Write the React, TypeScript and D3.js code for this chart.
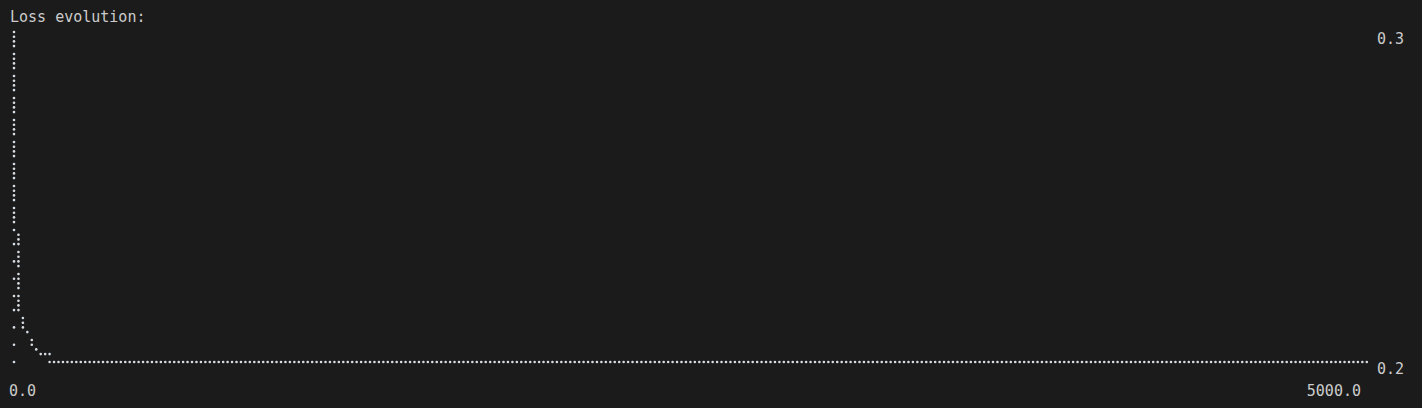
import { useEffect, useRef } from "react";
import * as d3 from "d3";

const epochs = [0, 8, 16, 24, 36, 40, 50, 66, 72, 82, 98, 131, 138, 5000];
const losses = [
  0.31, 0.24, 0.238, 0.215, 0.213, 0.21, 0.208, 0.207, 0.205, 0.203, 0.2017,
  0.2017, 0.2, 0.2,
];
// loose points at epoch 0
const startLosses = [0.235, 0.23, 0.225, 0.22, 0.215, 0.21, 0.205, 0.2];

const yTicks = [0.3, 0.2];
const xTicks = [0, 5000];

function App() {
  const svgRef = useRef(null);

  useEffect(() => {
    const width = 1422;
    const height = 408;
    const lineH = 22;
    const left = 10;
    const top = 32;
    const dotCols = 305;
    const dotRows = 61;
    const font = "'DejaVu Sans Mono', monospace";
    const textColor = "#cccccc";
    const dotColor = "#d6dde4";

    document.body.style.margin = "0";
    document.body.style.background = "#1b1b1b";

    // data -> braille dot grid
    const xScale = d3
      .scaleLinear()
      .domain([xTicks[0], xTicks[1]])
      .range([0, dotCols - 1]);
    const yScale = d3
      .scaleLinear()
      .domain([yTicks[1], yTicks[0]])
      .range([dotRows - 1, 0]);

    const colX = (c) => 14 + c * 4.45;
    const rowY = (r) => top + Math.floor(r / 4) * lineH + (r % 4) * 4.7;

    const lit = new Map();
    const light = (c, r) => {
      if (c < 0 || c >= dotCols || r < 0 || r >= dotRows) return;
      lit.set(c + "," + r, [c, r]);
    };

    const pts = epochs.map((e, i) => [xScale(e), yScale(losses[i])]);
    for (let i = 0; i < pts.length - 1; i++) {
      const [c0, r0] = pts[i];
      const [c1, r1] = pts[i + 1];
      const n = Math.max(
        1,
        Math.ceil(Math.max(Math.abs(c1 - c0), Math.abs(r1 - r0)))
      );
      for (let k = 0; k <= n; k++) {
        light(
          Math.round(c0 + ((c1 - c0) * k) / n),
          Math.round(r0 + ((r1 - r0) * k) / n)
        );
      }
    }
    startLosses.forEach((l) =>
      light(Math.round(xScale(0)), Math.round(yScale(l)))
    );

    const svg = d3
      .select(svgRef.current)
      .attr("width", width)
      .attr("height", height);

    svg.selectAll("*").remove();

    svg
      .append("rect")
      .attr("width", width)
      .attr("height", height)
      .attr("fill", "#1b1b1b");

    svg
      .append("text")
      .attr("x", left)
      .attr("y", 22)
      .attr("fill", textColor)
      .style("font-family", font)
      .style("font-size", "15px")
      .text("Loss evolution:");

    svg
      .selectAll(".dot")
      .data(Array.from(lit.values()))
      .enter()
      .append("circle")
      .attr("class", "dot")
      .attr("cx", (d) => colX(d[0]))
      .attr("cy", (d) => rowY(d[1]))
      .attr("r", 1.3)
      .attr("fill", dotColor);

    // y labels sit on the text row of their dot row
    svg
      .selectAll(".ylab")
      .data(yTicks)
      .enter()
      .append("text")
      .attr("class", "ylab")
      .attr("x", 1377)
      .attr("y", (d) => top + Math.floor(yScale(d) / 4) * lineH + 12)
      .attr("fill", textColor)
      .style("font-family", font)
      .style("font-size", "15px")
      .text((d) => d.toFixed(1));

    svg
      .selectAll(".xlab")
      .data(xTicks)
      .enter()
      .append("text")
      .attr("class", "xlab")
      .attr("x", (d, i) => (i === 0 ? 9 : 1361))
      .attr("y", 396)
      .attr("text-anchor", (d, i) => (i === 0 ? "start" : "end"))
      .attr("fill", textColor)
      .style("font-family", font)
      .style("font-size", "15px")
      .text((d) => d.toFixed(1));
  }, []);

  return (
    <svg
      ref={svgRef}
      style={{ position: "absolute", left: 0, top: 0, display: "block" }}
    ></svg>
  );
}

export default App;
